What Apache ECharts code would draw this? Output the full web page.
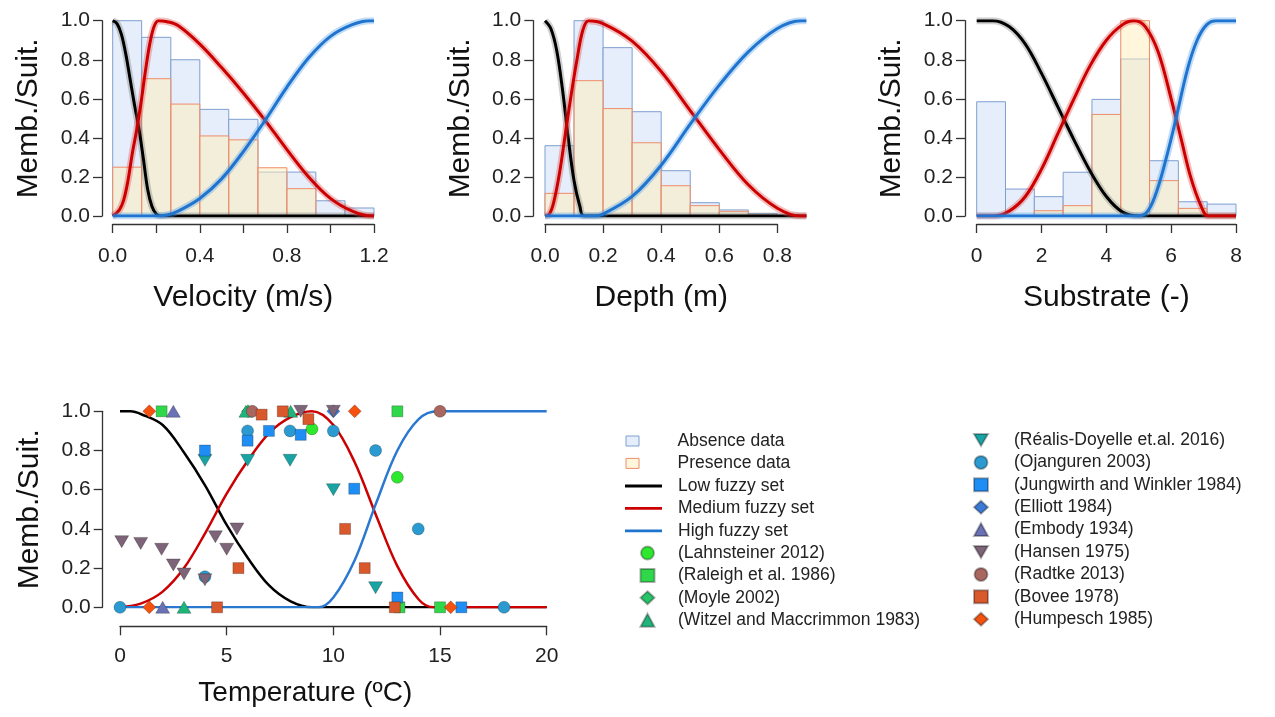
<!DOCTYPE html>
<html>
<head>
<meta charset="utf-8">
<title>Fuzzy sets</title>
<script src="https://cdn.jsdelivr.net/npm/echarts/dist/echarts.min.js"></script>
<style>
  html, body { margin: 0; padding: 0; background: #fff; }
  #container { width: 1275px; height: 717px; }
</style>
</head>
<body>
<div id="container"></div>
<script>
// ---- histogram data (bin edges + bar heights) ----
const velEdges = [0, 0.133, 0.267, 0.4, 0.533, 0.667, 0.8, 0.933, 1.067, 1.2];
const velAbsence = [1.0, 0.915, 0.80, 0.546, 0.495, 0.225, 0.225, 0.078, 0.041];
const velPresence = [0.25, 0.703, 0.573, 0.41, 0.39, 0.247, 0.14, 0, 0];

const depEdges = [0, 0.1, 0.2, 0.3, 0.4, 0.5, 0.6, 0.7, 0.8, 0.9];
const depAbsence = [0.36, 1.0, 0.862, 0.534, 0.232, 0.068, 0.031, 0.012, 0];
const depPresence = [0.116, 0.693, 0.55, 0.375, 0.155, 0.053, 0.024, 0.005, 0];

const subEdges = [0, 0.889, 1.778, 2.667, 3.556, 4.444, 5.333, 6.222, 7.111, 8];
const subAbsence = [0.585, 0.138, 0.099, 0.224, 0.597, 0.804, 0.283, 0.073, 0.061];
const subPresence = [0, 0, 0.027, 0.053, 0.52, 1.0, 0.181, 0.039, 0];

// ---- fuzzy set curves ----
const velLow = [[0,1],[0.02,0.985],[0.04,0.93],[0.06,0.83],[0.08,0.7],[0.1,0.57],[0.12,0.45],[0.14,0.3],[0.16,0.14],[0.18,0.05],[0.2,0.01],[0.22,0],[1.2,0]];
const velMed = [[0,0],[0.03,0.03],[0.05,0.08],[0.07,0.18],[0.09,0.32],[0.11,0.44],[0.13,0.58],[0.15,0.74],[0.17,0.88],[0.19,0.97],[0.21,1.0],[0.25,0.995],[0.3,0.975],[0.4,0.88],[0.5,0.76],[0.6,0.63],[0.7,0.49],[0.8,0.34],[0.9,0.2],[1.0,0.09],[1.1,0.025],[1.19,0],[1.2,0]];
const velHigh = [[0,0],[0.2,0],[0.25,0.005],[0.3,0.025],[0.4,0.09],[0.5,0.19],[0.6,0.33],[0.7,0.49],[0.8,0.66],[0.9,0.81],[1.0,0.92],[1.1,0.98],[1.18,1.0],[1.2,1.0]];

const depLow = [[0,1],[0.02,0.96],[0.04,0.85],[0.06,0.65],[0.08,0.4],[0.1,0.18],[0.12,0.05],[0.135,0],[0.9,0]];
const depMed = [[0,0],[0.015,0.01],[0.03,0.07],[0.05,0.22],[0.07,0.42],[0.09,0.62],[0.11,0.8],[0.13,0.95],[0.15,1.0],[0.2,0.985],[0.3,0.895],[0.4,0.74],[0.5,0.54],[0.6,0.34],[0.7,0.16],[0.8,0.04],[0.88,0],[0.9,0]];
const depHigh = [[0,0],[0.17,0],[0.2,0.01],[0.3,0.1],[0.4,0.26],[0.5,0.47],[0.6,0.67],[0.7,0.84],[0.8,0.96],[0.88,1.0],[0.9,1.0]];

const subLow = [[0,1],[0.5,1.0],[1,0.97],[1.5,0.88],[2,0.73],[2.5,0.56],[3,0.39],[3.5,0.23],[4,0.1],[4.5,0.02],[5,0],[8,0]];
const subMed = [[0,0],[0.55,0],[1,0.025],[1.5,0.1],[2,0.24],[2.5,0.42],[3,0.6],[3.5,0.77],[4,0.9],[4.5,0.98],[4.85,1.0],[5.2,0.97],[5.6,0.84],[6,0.6],[6.3,0.4],[6.6,0.2],[6.9,0.06],[7.15,0],[8,0]];
const subHigh = [[0,0],[5,0],[5.3,0.03],[5.6,0.15],[5.9,0.33],[6.15,0.5],[6.5,0.75],[6.8,0.9],[7.1,0.98],[7.4,1.0],[8,1.0]];

const tempLow = [[0,1],[0.5,1.0],[1,0.985],[2,0.93],[3,0.79],[4,0.62],[5,0.42],[6,0.25],[7,0.11],[8,0.03],[9,0],[20,0]];
const tempMed = [[0,0],[1,0.02],[2,0.08],[3,0.2],[4,0.38],[5,0.58],[6,0.75],[7,0.89],[8,0.97],[9,1.0],[10,0.93],[11,0.74],[12,0.47],[13,0.21],[14,0.04],[14.7,0],[20,0]];
const tempHigh = [[0,0],[9.3,0],[10,0.05],[11,0.24],[12,0.53],[13,0.8],[14,0.96],[14.9,1.0],[20,1.0]];

// ---- literature points (temperature, suitability) ----
const lahnsteiner = [[9.0,0.91],[13.0,0.663]];
const raleigh = [[1.95,1.0],[13.0,1.0],[13.1,0],[15.0,0]];
const moyle = [[6.0,1.0]];
const witzel = [[3.0,0],[5.9,1.0],[8.0,1.0]];
const realis = [[3.98,0.75],[5.98,0.75],[7.97,0.75],[10.0,0.6],[11.98,0.1]];
const ojanguren = [[0,0],[3.98,0.156],[5.98,0.9],[7.97,0.9],[10.0,0.9],[11.98,0.8],[13.98,0.4],[18.0,0]];
const jungwirth = [[3.98,0.8],[5.98,0.85],[6.98,0.9],[8.47,0.88],[10.98,0.605],[13.0,0.05],[16.0,0]];
const elliott = [[10.0,1.0]];
const embody = [[2.5,1.0],[2.0,0]];
const hansen = [[0.08,0.335],[0.97,0.326],[1.95,0.296],[2.5,0.216],[3.0,0.17],[3.98,0.14],[4.47,0.36],[5.0,0.296],[5.48,0.40],[8.47,1.0],[10.0,1.0]];
const radtke = [[6.2,1.0],[15.0,1.0]];
const bovee = [[4.55,0],[5.55,0.2],[6.64,0.983],[7.63,1.0],[8.83,0.96],[10.55,0.40],[11.47,0.20],[12.88,0]];
const humpesch = [[1.375,1.0],[1.375,0],[11.0,1.0],[15.5,0]];

const FONT = 'Liberation Sans, Arial, sans-serif';
const ABS_FILL = '#e5eefa', ABS_LINE = '#7f9fd0';
const PRE_FILL = 'rgba(255,238,185,0.5)', PRE_LINE = '#ef8c6a';
const INV_TRI = 'path://M0,0L10,0L5,8.66Z';

var dom = document.getElementById('container');
var myChart = echarts.init(dom, null, { renderer: 'canvas' });

function bins(edges, heights) {
    let out = [];
    for (let i = 0; i < heights.length; i++) {
        if (heights[i] > 0) out.push([edges[i], edges[i + 1], heights[i]]);
    }
    return out;
}

function hist(name, gi, edges, heights, fill, stroke) {
    return {
        type: 'custom', name: name, xAxisIndex: gi, yAxisIndex: gi, silent: true,
        itemStyle: { color: fill, borderColor: stroke, borderWidth: 1 },
        encode: { x: [0, 1], y: 2 },
        data: bins(edges, heights),
        renderItem: function (params, api) {
            const p0 = api.coord([api.value(0), api.value(2)]);
            const p1 = api.coord([api.value(1), 0]);
            return {
                type: 'rect',
                shape: { x: p0[0], y: p0[1], width: p1[0] - p0[0], height: p1[1] - p0[1] },
                style: { fill: fill, stroke: stroke, lineWidth: 1 }
            };
        }
    };
}

function curve(name, gi, data, color, width, opacity) {
    return {
        type: 'line', name: name, xAxisIndex: gi, yAxisIndex: gi, data: data,
        smooth: 0.35, symbol: 'none', silent: true,
        lineStyle: { color: color, width: width, opacity: opacity },
        itemStyle: { color: color }
    };
}

function points(name, data, symbol, size, color) {
    return {
        type: 'scatter', name: name, xAxisIndex: 4, yAxisIndex: 4, data: data,
        symbol: symbol, symbolSize: size, z: 5, silent: true,
        itemStyle: { color: color, borderColor: 'rgba(0,0,0,0.3)', borderWidth: 0.8, opacity: 1 }
    };
}

// three top panels: bars + bundle under-lay + main curve
function topPanel(gi, edges, absence, presence, low, med, high) {
    return [
        hist('Absence data', gi, edges, absence, ABS_FILL, ABS_LINE),
        hist('Presence data', gi, edges, presence, PRE_FILL, PRE_LINE),
        curve('low band', gi, low, '#777777', 7, 0.35),
        curve('Low fuzzy set', gi, low, '#000000', 3, 1),
        curve('medium band', gi, med, '#e04848', 7, 0.35),
        curve('Medium fuzzy set', gi, med, '#cc0000', 3, 1),
        curve('high band', gi, high, '#4a9ae8', 7, 0.35),
        curve('High fuzzy set', gi, high, '#1f74d0', 3, 1)
    ];
}

const axisLineStyle = { color: '#333', width: 1.3 };
const labelStyle = { color: '#222', fontSize: 21, fontFamily: FONT };

function xAx(gi, min, max, interval, name, fmt, offset, margin, gap, nameStyle) {
    return {
        gridIndex: gi, type: 'value', min: min, max: max, interval: interval, offset: offset,
        name: name, nameLocation: 'middle', nameGap: gap, nameTextStyle: nameStyle,
        axisLine: { show: true, onZero: false, lineStyle: axisLineStyle },
        axisTick: { show: true, length: 9, lineStyle: axisLineStyle },
        axisLabel: Object.assign({ margin: margin, formatter: fmt, showMinLabel: true, showMaxLabel: true }, labelStyle),
        splitLine: { show: false }
    };
}

function yAx(gi, offset) {
    return {
        gridIndex: gi, type: 'value', min: 0, max: 1, interval: 0.2, offset: offset,
        name: 'Memb./Suit.', nameLocation: 'middle', nameGap: 58,
        nameTextStyle: { color: '#111', fontSize: 30, fontFamily: FONT },
        axisLine: { show: true, onZero: false, lineStyle: axisLineStyle },
        axisTick: { show: true, length: 9, lineStyle: axisLineStyle },
        axisLabel: Object.assign({ margin: 12, formatter: v => v.toFixed(1) }, labelStyle),
        splitLine: { show: false }
    };
}

function hidden(gi, min, max) {
    return { gridIndex: gi, type: 'value', min: min, max: max, show: false, splitLine: { show: false } };
}

const topName = { color: '#111', fontSize: 30, fontFamily: FONT };
const bottomName = { color: '#111', fontSize: 28, fontFamily: FONT, padding: [0, 56, 0, 0] };
const legendText = { fontSize: 17.5, fontFamily: FONT, color: '#222' };
const lineIcon = 'path://M0,0H40V3H0Z';

function legendBlock(left, top, w, h, pad, data) {
    return {
        left: left, top: top, orient: 'vertical', itemWidth: w, itemHeight: h, itemGap: 4.4,
        selectedMode: false, padding: 0,
        textStyle: Object.assign({ padding: [0, 0, 0, pad] }, legendText),
        data: data
    };
}

option = {
    animation: false,
    backgroundColor: '#fff',
    grid: [
        { left: 112.7, top: 20.7, width: 261.3, height: 195.3 },   // velocity
        { left: 545, top: 20.7, width: 261.4, height: 195.3 },     // depth (data, 0-0.9)
        { left: 545, top: 20.7, width: 232.4, height: 195.3 },     // depth (axis, 0-0.8)
        { left: 976.7, top: 20.7, width: 259.3, height: 195.3 },   // substrate
        { left: 120, top: 411.3, width: 426.7, height: 196 }       // temperature
    ],
    xAxis: [
        xAx(0, 0, 1.2, 0.2, 'Velocity (m/s)', v => (Math.round(v * 10) % 4 === 0 ? v.toFixed(1) : ''), 8, 22, 59, topName),
        hidden(1, 0, 0.9),
        xAx(2, 0, 0.8, 0.2, 'Depth (m)', v => v.toFixed(1), 8, 22, 59, topName),
        xAx(3, 0, 8, 2, 'Substrate (-)', v => String(v), 8, 22, 59, topName),
        xAx(4, 0, 20, 5, 'Temperature (ºC)', v => String(v), 19, 19, 53, bottomName)
    ],
    yAxis: [
        yAx(0, 10.7),
        hidden(1, 0, 1),
        yAx(2, 11.7),
        yAx(3, 11.7),
        yAx(4, 17.3)
    ],
    legend: [
        legendBlock(625.5, 432, 13, 10, 33.5, [
            { name: 'Absence data', icon: 'rect', itemStyle: { color: ABS_FILL, borderColor: ABS_LINE, borderWidth: 1 } },
            { name: 'Presence data', icon: 'rect', itemStyle: { color: '#fff6dc', borderColor: PRE_LINE, borderWidth: 1 } }
        ]),
        legendBlock(625, 477, 37, 12, 11, [
            { name: 'Low fuzzy set', icon: lineIcon, itemStyle: { color: '#000000', borderWidth: 0 } },
            { name: 'Medium fuzzy set', icon: lineIcon, itemStyle: { color: '#cc0000', borderWidth: 0 } },
            { name: 'High fuzzy set', icon: lineIcon, itemStyle: { color: '#1f74d0', borderWidth: 0 } }
        ]),
        legendBlock(639.5, 544, 14, 13, 18.5, ['(Lahnsteiner 2012)', '(Raleigh et al. 1986)', '(Moyle 2002)',
            '(Witzel and Maccrimmon 1983)']),
        legendBlock(973, 431, 14, 13, 21, ['(Réalis-Doyelle et.al. 2016)', '(Ojanguren 2003)',
            '(Jungwirth and Winkler 1984)', '(Elliott 1984)', '(Embody 1934)', '(Hansen 1975)',
            '(Radtke 2013)', '(Bovee 1978)', '(Humpesch 1985)'])
    ],
    series: [].concat(
        topPanel(0, velEdges, velAbsence, velPresence, velLow, velMed, velHigh),
        topPanel(1, depEdges, depAbsence, depPresence, depLow, depMed, depHigh),
        topPanel(3, subEdges, subAbsence, subPresence, subLow, subMed, subHigh),
        [
            curve('Low fuzzy set', 4, tempLow, '#000000', 2.5, 1),
            curve('Medium fuzzy set', 4, tempMed, '#cc0000', 2.5, 1),
            curve('High fuzzy set', 4, tempHigh, '#2a78d0', 2.5, 1),
            points('(Lahnsteiner 2012)', lahnsteiner, 'circle', 12, '#2ee82e'),
            points('(Raleigh et al. 1986)', raleigh, 'rect', 11, '#2fd84a'),
            points('(Moyle 2002)', moyle, 'diamond', 13, '#27c46a'),
            points('(Witzel and Maccrimmon 1983)', witzel, 'triangle', [14, 12], '#1fb57a'),
            points('(Réalis-Doyelle et.al. 2016)', realis, INV_TRI, [14, 12], '#1aa3a3'),
            points('(Ojanguren 2003)', ojanguren, 'circle', 12, '#2a9ad0'),
            points('(Jungwirth and Winkler 1984)', jungwirth, 'rect', 11, '#1e8ef5'),
            points('(Elliott 1984)', elliott, 'diamond', 13, '#3b7bd6'),
            points('(Embody 1934)', embody, 'triangle', [14, 12], '#6a72b5'),
            points('(Hansen 1975)', hansen, INV_TRI, [14, 12], '#7d6479'),
            points('(Radtke 2013)', radtke, 'circle', 12, '#a8665e'),
            points('(Bovee 1978)', bovee, 'rect', 11, '#d9582c'),
            points('(Humpesch 1985)', humpesch, 'diamond', 13, '#f5520f')
        ]
    )
};

if (option && typeof option === 'object') {
    myChart.setOption(option);
}
window.addEventListener('resize', myChart.resize);
</script>
</body>
</html>
